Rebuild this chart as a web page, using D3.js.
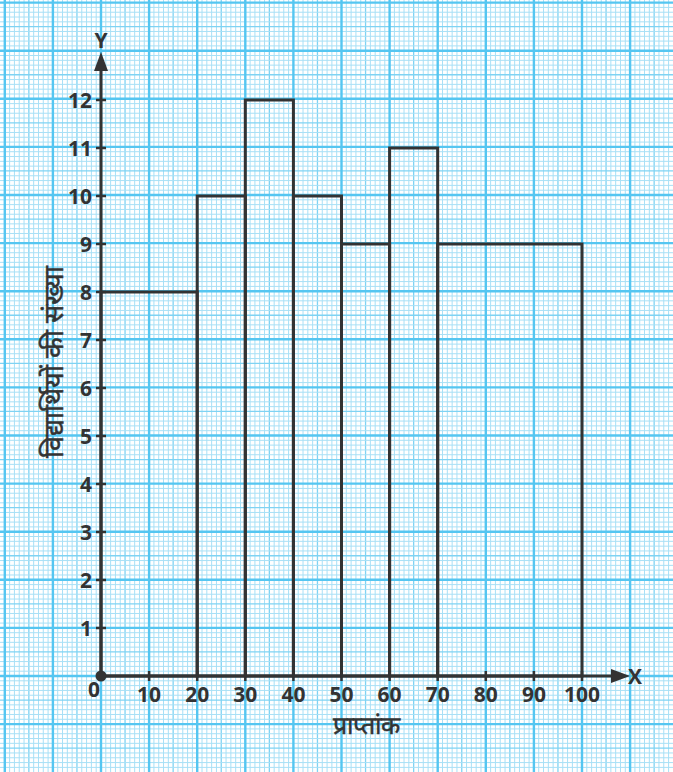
<!DOCTYPE html>
<html>
<head>
<meta charset="utf-8">
<script src="https://cdn.jsdelivr.net/npm/d3@7"></script>
<style>
  html, body { margin: 0; padding: 0; background: #fff; }
  svg { display: block; }
</style>
</head>
<body>
<svg id="chart" width="673" height="772"></svg>
<script>
// Class intervals (marks) and number of students in each
const classStart = [0, 20, 30, 40, 50, 60, 70];
const classEnd   = [20, 30, 40, 50, 60, 70, 100];
const students   = [8, 10, 12, 10, 9, 11, 9];
const xTicks = [10, 20, 30, 40, 50, 60, 70, 80, 90, 100];
const yTicks = [1, 2, 3, 4, 5, 6, 7, 8, 9, 10, 11, 12];
const xTitle = "प्राप्तांक";
const yTitle = "विद्यार्थियों की संख्या";

const W = 673, H = 772;
const svg = d3.select("#chart");

const x = d3.scaleLinear().domain([0, 100]).range([101, 582]);
const y = d3.scaleLinear().domain([0, 12]).range([676, 100]);

// graph-paper background: 1 unit on y = 10 small squares, 10 marks on x = 10 small squares
const unit = x(10) - x(0);
const step = unit / 10;
const grid = svg.append("g");
const ox = x(0), oy = y(0);
const kMinX = Math.ceil(-ox / step), kMaxX = Math.floor((W - ox) / step);
const kMinY = Math.ceil(-(H - oy) / step), kMaxY = Math.floor(oy / step);

function lineStyle(k) {
  if (k % 10 === 0) return { c: "#55c6f1", w: 2.4 };
  if (k % 5 === 0) return { c: "#7fd3f3", w: 1.3 };
  return { c: "#a8e0f6", w: 1 };
}
// minor lines first, then majors on top
[false, true].forEach(major => {
  for (let k = kMinX; k <= kMaxX; k++) {
    if ((k % 10 === 0) !== major) continue;
    const s = lineStyle(k), px = ox + k * step;
    grid.append("line").attr("x1", px).attr("x2", px).attr("y1", 0).attr("y2", H)
      .attr("stroke", s.c).attr("stroke-width", s.w);
  }
  for (let k = kMinY; k <= kMaxY; k++) {
    if ((k % 10 === 0) !== major) continue;
    const s = lineStyle(k), py = oy - k * step;
    grid.append("line").attr("y1", py).attr("y2", py).attr("x1", 0).attr("x2", W)
      .attr("stroke", s.c).attr("stroke-width", s.w);
  }
});

const ink = "#333333";

// histogram bars (outlined)
svg.append("g").selectAll("rect")
  .data(students.map((v, i) => ({ a: classStart[i], b: classEnd[i], v })))
  .join("rect")
  .attr("x", d => x(d.a))
  .attr("y", d => y(d.v))
  .attr("width", d => x(d.b) - x(d.a))
  .attr("height", d => y(0) - y(d.v))
  .attr("fill", "none")
  .attr("stroke", ink)
  .attr("stroke-width", 3);

// axes
const axes = svg.append("g");
axes.append("line").attr("x1", x(0)).attr("x2", 620).attr("y1", y(0)).attr("y2", y(0))
  .attr("stroke", ink).attr("stroke-width", 3);
axes.append("line").attr("x1", x(0)).attr("x2", x(0)).attr("y1", y(0)).attr("y2", 66)
  .attr("stroke", ink).attr("stroke-width", 3);
// arrowheads
axes.append("path").attr("d", `M${x(0)},52 L${x(0) - 7},71 L${x(0) + 7},71 Z`).attr("fill", ink);
axes.append("path").attr("d", `M630,${y(0)} L611,${y(0) - 7} L611,${y(0) + 7} Z`).attr("fill", ink);
// origin dot
axes.append("circle").attr("cx", x(0)).attr("cy", y(0)).attr("r", 5.5).attr("fill", ink);

// ticks
axes.selectAll(".xt").data(xTicks).join("line")
  .attr("x1", d => x(d)).attr("x2", d => x(d))
  .attr("y1", y(0) - 5).attr("y2", y(0) + 5)
  .attr("stroke", ink).attr("stroke-width", 2.5);
axes.selectAll(".yt").data(yTicks).join("line")
  .attr("y1", d => y(d)).attr("y2", d => y(d))
  .attr("x1", x(0) - 5).attr("x2", x(0) + 5)
  .attr("stroke", ink).attr("stroke-width", 2.5);

const font = "'Open Sans', 'Liberation Sans', sans-serif";
// tick labels
axes.selectAll(".xl").data(xTicks).join("text")
  .attr("x", d => x(d)).attr("y", y(0) + 26)
  .attr("text-anchor", "middle")
  .attr("font-family", font).attr("font-weight", 700).attr("font-size", 21)
  .attr("fill", ink).text(d => d);
axes.selectAll(".yl").data(yTicks).join("text")
  .attr("x", x(0) - 9).attr("y", d => y(d) + 7.5)
  .attr("text-anchor", "end")
  .attr("font-family", font).attr("font-weight", 700).attr("font-size", 21)
  .attr("fill", ink).text(d => d);
axes.append("text").attr("x", x(0) - 7).attr("y", y(0) + 21).attr("text-anchor", "middle")
  .attr("font-family", font).attr("font-weight", 700).attr("font-size", 21)
  .attr("fill", ink).text("0");

// axis letters
axes.append("text").attr("x", x(0)).attr("y", 48).attr("text-anchor", "middle")
  .attr("font-family", font).attr("font-weight", 700).attr("font-size", 21)
  .attr("fill", ink).text("Y");
axes.append("text").attr("x", 635).attr("y", y(0) + 8).attr("text-anchor", "middle")
  .attr("font-family", font).attr("font-weight", 700).attr("font-size", 21)
  .attr("fill", ink).text("X");

// axis titles
svg.append("text").attr("x", 366).attr("y", 734).attr("text-anchor", "middle")
  .attr("font-family", font).attr("font-size", 25).attr("fill", ink)
  .attr("stroke", ink).attr("stroke-width", 0.5).text(xTitle);
svg.append("text")
  .attr("transform", "translate(63,362) rotate(-90)")
  .attr("text-anchor", "middle")
  .attr("font-family", font).attr("font-size", 27).attr("fill", ink)
  .attr("stroke", ink).attr("stroke-width", 0.5).text(yTitle);
</script>
</body>
</html>
